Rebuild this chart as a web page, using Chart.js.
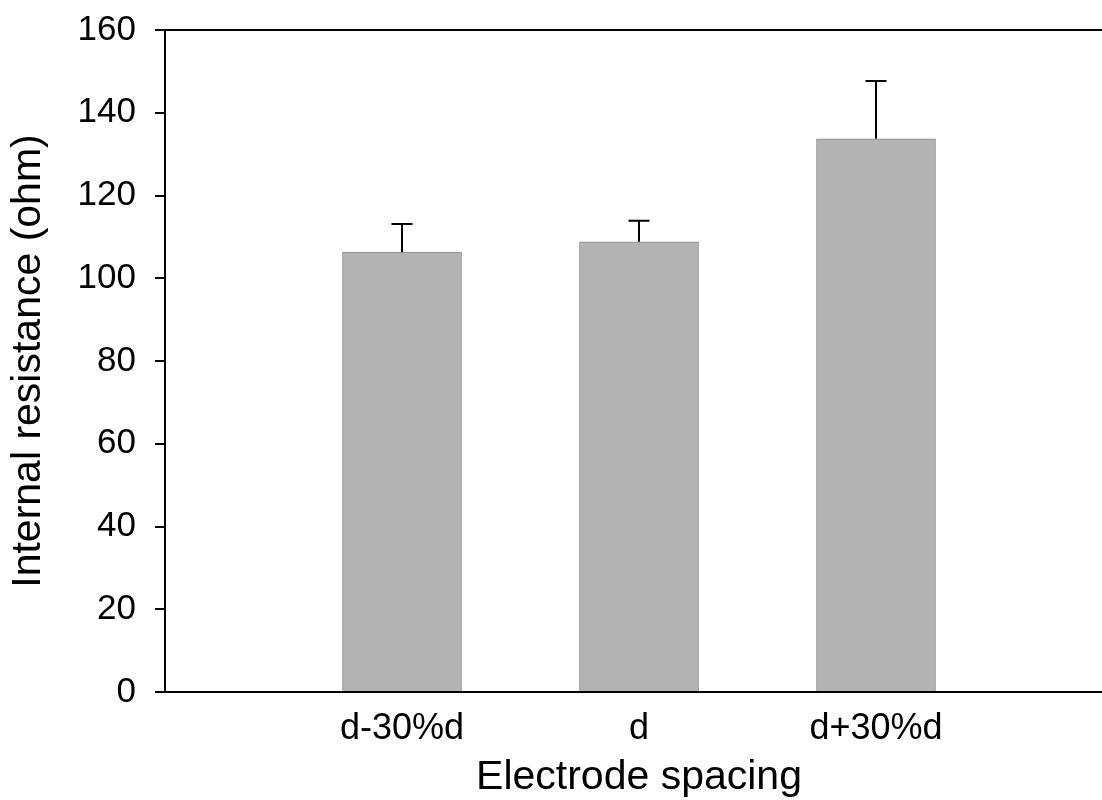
<!DOCTYPE html>
<html>
<head>
<meta charset="utf-8">
<script src="https://cdn.jsdelivr.net/npm/chart.js@4.4.0/dist/chart.umd.min.js"></script>
<style>
  html, body { margin: 0; padding: 0; background: #fff; overflow: hidden; }
  #wrap { width: 1114px; height: 800px; }
</style>
</head>
<body>
<div id="wrap"><canvas id="myChart" width="1114" height="800"></canvas></div>
<script>
// electrode spacing cases
var categories = ["d-30%d", "d", "d+30%d"];
var positions = [1, 2, 3];
var resistance = [106.3, 108.8, 133.7];
var errorUp = [6.8, 5.1, 14.0];
var yTicks = [0, 20, 40, 60, 80, 100, 120, 140, 160];

var FONT = "'Liberation Sans', Arial, sans-serif";

// upper error bars with a cap, drawn through the scales
var errorBars = {
  id: "errorBars",
  afterDatasetsDraw: function (chart) {
    var ctx = chart.ctx;
    var yScale = chart.scales.y;
    var meta = chart.getDatasetMeta(0);
    ctx.save();
    ctx.strokeStyle = "#000";
    ctx.lineWidth = 2;
    meta.data.forEach(function (bar, i) {
      var top = yScale.getPixelForValue(resistance[i] + errorUp[i]);
      ctx.beginPath();
      ctx.moveTo(bar.x, bar.y);
      ctx.lineTo(bar.x, top);
      ctx.moveTo(bar.x - 10.5, top);
      ctx.lineTo(bar.x + 10.5, top);
      ctx.stroke();
    });
    ctx.restore();
  }
};

// top frame line
var topLine = {
  id: "topLine",
  afterDraw: function (chart) {
    var a = chart.chartArea;
    var ctx = chart.ctx;
    ctx.save();
    ctx.strokeStyle = "#000";
    ctx.lineWidth = 2;
    ctx.beginPath();
    ctx.moveTo(a.left - 10, a.top);
    ctx.lineTo(chart.width, a.top);
    ctx.stroke();
    ctx.restore();
  }
};

var ctx = document.getElementById("myChart").getContext("2d");
var myChart = new Chart(ctx, {
  type: "bar",
  data: {
    datasets: [
      {
        label: "Internal resistance",
        data: positions.map(function (x, i) { return { x: x, y: resistance[i] }; }),
        backgroundColor: "#b3b3b3",
        borderColor: "#8c8c8c",
        borderWidth: 1,
        barThickness: 119
      }
    ]
  },
  options: {
    responsive: false,
    animation: false,
    layout: { padding: { top: 30, right: 1, left: 0, bottom: 0 } },
    plugins: { legend: { display: false }, tooltip: { enabled: false } },
    scales: {
      x: {
        type: "linear",
        offset: false,
        min: 0,
        max: 4,
        afterBuildTicks: function (scale) {
          scale.ticks = positions.map(function (v) { return { value: v }; });
        },
        afterFit: function (scale) { scale.height = 108; },
        grid: { display: false, drawTicks: false, offset: false },
        border: { display: true, color: "#000", width: 2 },
        ticks: {
          color: "#000",
          padding: 15,
          maxRotation: 0,
          font: { family: FONT, size: 36 },
          callback: function (v) {
            var i = positions.indexOf(v);
            return i >= 0 ? categories[i] : "";
          }
        },
        title: {
          display: true,
          text: "Electrode spacing",
          color: "#000",
          font: { family: FONT, size: 41, lineHeight: 1.1 },
          padding: { top: 0, bottom: 0 }
        }
      },
      y: {
        min: 0,
        max: 160,
        afterBuildTicks: function (scale) {
          scale.ticks = yTicks.map(function (v) { return { value: v }; });
        },
        afterFit: function (scale) {
          scale.width = 165;
          scale.paddingTop = 0;
          scale.paddingBottom = 0;
        },
        grid: { drawOnChartArea: false, drawTicks: true, tickLength: 10, color: "#000", lineWidth: 2 },
        border: { display: true, color: "#000", width: 2 },
        ticks: {
          color: "#000",
          padding: 19,
          font: { family: FONT, size: 35 }
        },
        title: {
          display: true,
          text: "Internal resistance (ohm)",
          color: "#000",
          font: { family: FONT, size: 41, lineHeight: 1.2 },
          padding: { top: 4, bottom: 0 }
        }
      }
    }
  },
  plugins: [errorBars, topLine]
});
</script>
</body>
</html>
